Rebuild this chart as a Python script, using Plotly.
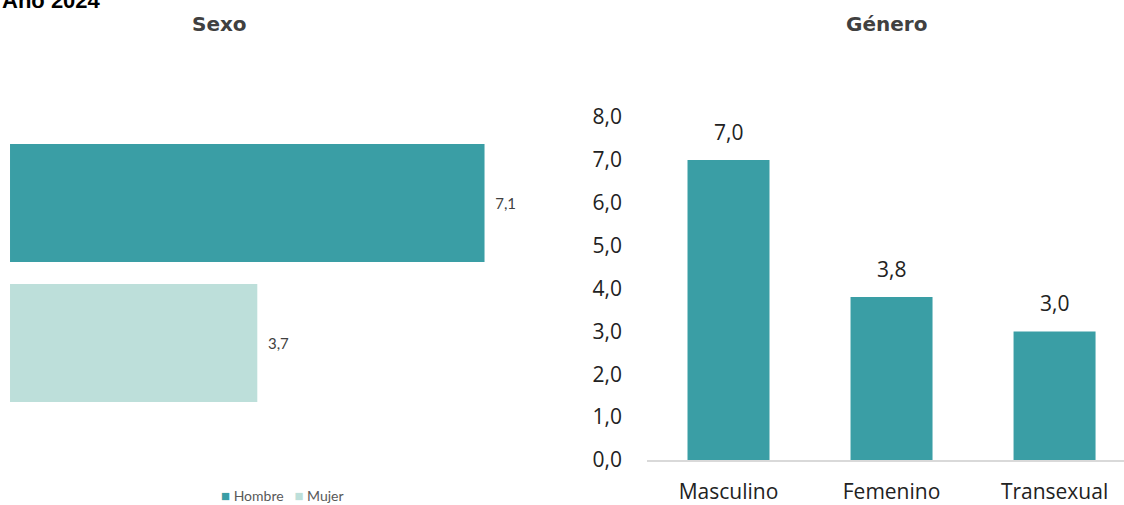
import plotly.graph_objects as go

# datos
sexo_cat = ["Mujer", "Hombre"]
sexo_val = [3.7, 7.1]
sexo_col = ["#BDDFDA", "#3A9EA5"]

genero_cat = ["Masculino", "Femenino", "Transexual"]
genero_val = [7.0, 3.8, 3.0]
genero_ticks = [0, 1, 2, 3, 4, 5, 6, 7, 8]

W, H = 1124, 505
FONT = "Open Sans"

fig = go.Figure()

# Sexo: barras horizontales
for cat, val, col in zip(sexo_cat, sexo_val, sexo_col):
    fig.add_trace(go.Bar(
        y=[cat], x=[val], orientation="h", name=cat, showlegend=False,
        marker=dict(color=col, line=dict(width=0)),
        texttemplate="  %{x:.1f}", textposition="outside",
        textfont=dict(size=15, color="#404040", family="Lato"),
        cliponaxis=False, xaxis="x", yaxis="y", width=0.843,
    ))

# Genero: barras verticales
fig.add_trace(go.Bar(
    x=genero_cat, y=genero_val, showlegend=False,
    marker=dict(color="#3A9EA5", line=dict(width=0)),
    xaxis="x2", yaxis="y2", width=0.503,
))
for c, v in zip(genero_cat, genero_val):
    fig.add_annotation(
        x=c, y=v, xref="x2", yref="y2", text=f"{v:.1f}".replace(".", ","),
        showarrow=False, yanchor="bottom", yshift=12,
        font=dict(size=21, color="#222222", family=FONT),
    )

# leyenda compacta como texto
leyenda = "&nbsp;&nbsp;&nbsp;".join(
    f"<span style='color:{col};font-size:15px'>■</span>&nbsp;{cat}"
    for cat, col in zip(reversed(sexo_cat), reversed(sexo_col))
)
fig.add_annotation(
    text=leyenda, x=282 / W, y=10 / H, xref="paper", yref="paper",
    xanchor="center", yanchor="middle", showarrow=False,
    font=dict(size=14, color="#595959", family="Lato"),
)

fig.update_layout(
    width=W, height=H, margin=dict(l=0, r=0, t=0, b=0, autoexpand=False),
    paper_bgcolor="white", plot_bgcolor="white",
    separators=",.",
    barmode="overlay",
    showlegend=False,
    font=dict(family=FONT, color="#222222"),
    xaxis=dict(domain=[0, 540 / W], range=[-0.15, 7.93], visible=False, automargin=False),
    yaxis=dict(domain=[92 / H, 372 / H], range=[-0.5, 1.5], visible=False, automargin=False,
               categoryorder="array", categoryarray=sexo_cat),
    xaxis2=dict(domain=[647 / W, 1], range=[-0.5, 2.426], anchor="y2", automargin=False,
                showline=True, linecolor="#D9D9D9", linewidth=2,
                showgrid=False, ticks="", ticklabelstandoff=12,
                tickfont=dict(size=21, color="#222222", family=FONT)),
    yaxis2=dict(domain=[45 / H, 388 / H], range=[0, 8], anchor="x2", automargin=False,
                tickvals=genero_ticks, tickformat=".1f",
                showgrid=False, zeroline=False, showline=False,
                ticklabelstandoff=24,
                tickfont=dict(size=21, color="#222222", family=FONT)),
)
fig.add_annotation(text="<b>Año 2024</b>", x=0, y=1, xref="paper", yref="paper",
                   xanchor="left", yanchor="middle", yshift=0, showarrow=False,
                   font=dict(size=22, color="#000000", family="Liberation Sans"))
fig.add_annotation(text="<b>Sexo</b>", x=219 / W, y=(H - 24) / H, xref="paper", yref="paper",
                   xanchor="center", yanchor="middle", showarrow=False,
                   font=dict(size=20, color="#404040", family="DejaVu Sans"))
fig.add_annotation(text="<b>Género</b>", x=886 / W, y=(H - 24) / H, xref="paper", yref="paper",
                   xanchor="center", yanchor="middle", showarrow=False,
                   font=dict(size=20, color="#404040", family="DejaVu Sans"))

# sin margen del body para que la figura ocupe la ventana entera
fig.write_html("out.html", config={"displayModeBar": False},
               post_script="document.body.style.margin='0px';")
